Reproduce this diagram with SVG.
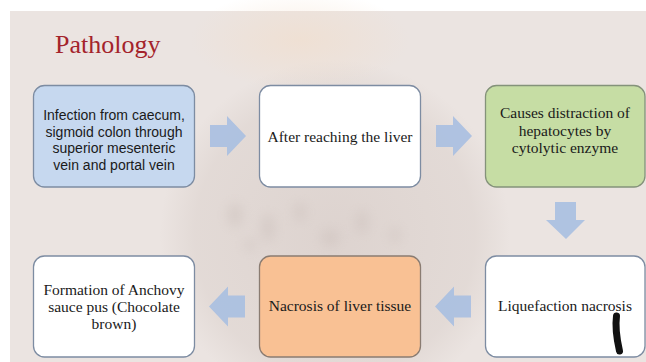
<svg xmlns="http://www.w3.org/2000/svg" width="646" height="362" viewBox="0 0 646 362">
<defs>
<style>
.box{stroke-width:1.3}
.sans{font-family:"Liberation Sans",Arial,sans-serif;font-size:14px;fill:#1a1a1a}
.serif{font-family:"Liberation Serif","Times New Roman",serif;font-size:15.5px;fill:#1a1a1a}
.arrow{fill:#a9bfe1;opacity:0.9}
</style>
<radialGradient id="glow" cx="0.5" cy="0.5" r="0.5">
<stop offset="0" stop-color="#f3dcc6" stop-opacity="0.5"/>
<stop offset="1" stop-color="#f3dcc6" stop-opacity="0"/>
</radialGradient>
<radialGradient id="ball" cx="0.5" cy="0.5" r="0.5">
<stop offset="0" stop-color="#cfc2bd" stop-opacity="0.5"/>
<stop offset="0.8" stop-color="#d6cbc6" stop-opacity="0.4"/>
<stop offset="1" stop-color="#d6cbc6" stop-opacity="0"/>
</radialGradient>
<filter id="blur" x="-50%" y="-50%" width="200%" height="200%"><feGaussianBlur stdDeviation="6"/></filter>
</defs>
<rect x="0" y="0" width="646" height="362" fill="#ffffff"/>
<rect x="10" y="11" width="636" height="351" fill="#ebe4e1"/>
<ellipse cx="335" cy="235" rx="175" ry="175" fill="url(#ball)"/>
<ellipse cx="300" cy="40" rx="110" ry="50" fill="url(#glow)"/>
<g filter="url(#blur)" fill="#bfb2ad" opacity="0.3">
<ellipse cx="235" cy="215" rx="8" ry="12"/>
<ellipse cx="268" cy="228" rx="7" ry="14"/>
<ellipse cx="300" cy="212" rx="6" ry="10"/>
<ellipse cx="330" cy="238" rx="9" ry="8"/>
<ellipse cx="362" cy="222" rx="6" ry="12"/>
<ellipse cx="250" cy="245" rx="6" ry="6"/>
<ellipse cx="395" cy="235" rx="5" ry="8"/>
</g>
<text x="55" y="53" font-family="'Liberation Serif','Times New Roman',serif" font-size="26" fill="#a4232b">Pathology</text>
<g id="connectors">
<path class="arrow" d="M210,125 H227 V116 L246,136 L227,156 V147 H210 Z"/>
<path class="arrow" d="M436,125 H453 V116 L472,136 L453,156 V147 H436 Z"/>
<path class="arrow" d="M555,202 V220 H546 L566,239 L585,220 H576 V202 Z"/>
<path class="arrow" d="M471,295.5 H454 V286.5 L435,306.5 L454,326.5 V317.5 H471 Z"/>
<path class="arrow" d="M245,295.5 H228 V286.5 L209,306.5 L228,326.5 V317.5 H245 Z"/>
</g>
<g id="node1">
<rect class="box" x="33.5" y="85.5" width="161" height="101.5" rx="11" fill="#c6d8ef" stroke="#7d8ca2"/>
<text class="sans" text-anchor="middle"><tspan x="114" y="120">Infection from caecum,</tspan><tspan x="114" y="136.5">sigmoid colon through</tspan><tspan x="114" y="153">superior mesenteric</tspan><tspan x="114" y="169.5">vein and portal vein</tspan></text>
</g>
<g id="node2">
<rect class="box" x="259.5" y="85.5" width="161" height="101.5" rx="11" fill="#ffffff" stroke="#7d8ca2"/>
<text class="serif" x="340" y="142" text-anchor="middle">After reaching the liver</text>
</g>
<g id="node3">
<rect class="box" x="485.5" y="85.5" width="159.5" height="101.5" rx="11" fill="#c6dda4" stroke="#84927a"/>
<text class="serif" text-anchor="middle"><tspan x="565" y="118">Causes distraction of</tspan><tspan x="565" y="135.5">hepatocytes by</tspan><tspan x="565" y="153">cytolytic enzyme</tspan></text>
</g>
<g id="node4">
<rect class="box" x="485.5" y="256" width="159.5" height="101" rx="11" fill="#ffffff" stroke="#7d8ca2"/>
<text class="serif" x="565" y="311" text-anchor="middle">Liquefaction nacrosis</text>
<path d="M616.5,316 C615,327 617,340 619.5,351" fill="none" stroke="#111111" stroke-width="7" stroke-linecap="round"/>
</g>
<g id="node5">
<rect class="box" x="259.5" y="256" width="161" height="101" rx="11" fill="#f9c194" stroke="#8a7c72"/>
<text class="serif" x="340" y="311" text-anchor="middle">Nacrosis of liver tissue</text>
</g>
<g id="node6">
<rect class="box" x="33.5" y="256" width="161" height="101" rx="11" fill="#ffffff" stroke="#7d8ca2"/>
<text class="serif" text-anchor="middle"><tspan x="114" y="295">Formation of Anchovy</tspan><tspan x="114" y="312">sauce pus (Chocolate</tspan><tspan x="114" y="329">brown)</tspan></text>
</g>
</svg>
